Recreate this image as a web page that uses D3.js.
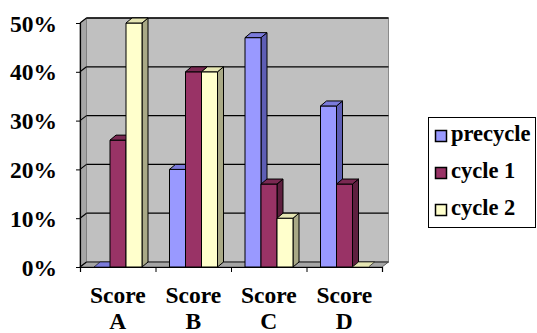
<!DOCTYPE html>
<html>
<head>
<meta charset="utf-8">
<script src="https://cdn.jsdelivr.net/npm/d3@7"></script>
<style>
  html, body { margin: 0; padding: 0; background: #fff; }
  svg { display: block; }
</style>
</head>
<body>
<svg id="chart" width="537" height="333"></svg>
<script>
// Score categories and the share of each score per cycle (percent)
const categories = ["Score A", "Score B", "Score C", "Score D"];
const seriesNames = ["precycle", "cycle 1", "cycle 2"];
const precycle = [0, 20, 47, 33];
const cycle1 = [26, 40, 17, 17];
const cycle2 = [50, 40, 10, 0];
const yTicks = [0, 10, 20, 30, 40, 50];

const seriesValues = [precycle, cycle1, cycle2];
const palette = {
  front: ["#9999FF", "#993366", "#FFFFCC"],
  top:   ["#7B7BDB", "#7A2952", "#E6E6B4"],
  side:  ["#5E5EB5", "#5E1F3F", "#A9A986"]
};
const FONT = '"Liberation Serif", "Times New Roman", serif';

const svg = d3.select("#chart");

// Front plane of the plot and the 3-D depth offset
const plotLeft = 80, plotRight = 382, plotBottom = 267, plotTop = 23;
const DX = 6.5, DY = 5;     // wall / floor depth
const bdx = 6, bdy = 5;     // column depth

const y = d3.scaleLinear().domain([0, 50]).range([plotBottom, plotTop]);
const x0 = d3.scaleBand().domain(categories).range([plotLeft, plotRight]);
const x1 = d3.scaleBand().domain(seriesNames).range([14, x0.bandwidth() - 13.5]);

const poly = pts => pts.map(p => p.join(",")).join(" ");
const styleText = sel => sel.style("font-family", FONT).style("font-weight", "bold").attr("fill", "#000");

// Back wall
svg.append("rect")
  .attr("x", plotLeft + DX).attr("y", plotTop - DY)
  .attr("width", plotRight - plotLeft).attr("height", plotBottom - plotTop)
  .attr("fill", "#C0C0C0").attr("stroke", "#8a8a8a").attr("stroke-width", 1);

// Side wall
svg.append("polygon")
  .attr("points", poly([[plotLeft, plotTop], [plotLeft + DX, plotTop - DY], [plotLeft + DX, plotBottom - DY], [plotLeft, plotBottom]]))
  .attr("fill", "#A6A6A6").attr("stroke", "#808080");

// Floor
svg.append("polygon")
  .attr("points", poly([[plotLeft, plotBottom], [plotLeft + DX, plotBottom - DY], [plotRight + DX, plotBottom - DY], [plotRight, plotBottom]]))
  .attr("fill", "#A6A6A6").attr("stroke", "#606060");

// Gridlines on back and side walls
const grid = svg.append("g");
yTicks.forEach(t => {
  grid.append("line")
    .attr("x1", plotLeft + DX).attr("x2", plotRight + DX)
    .attr("y1", y(t) - DY).attr("y2", y(t) - DY)
    .attr("stroke", "#000").attr("stroke-width", t === 0 ? 0.6 : 1.3);
  grid.append("line")
    .attr("x1", plotLeft).attr("x2", plotLeft + DX)
    .attr("y1", y(t)).attr("y2", y(t) - DY)
    .attr("stroke", "#000").attr("stroke-width", 1.1);
});

// Axes
const yAxis = svg.append("g").attr("transform", `translate(${plotLeft},0)`)
  .call(d3.axisLeft(y).tickValues(yTicks).tickSize(4).tickFormat(d => d + "%"));
yAxis.select(".domain").attr("stroke", "#000").attr("stroke-width", 1.2);
yAxis.selectAll(".tick line").attr("stroke", "#000");
yAxis.selectAll(".tick text")
  .attr("x", -23).attr("dy", "0.34em")
  .call(styleText).style("font-size", "23.5px");

const xEdge = d3.scaleLinear().domain([0, categories.length]).range([plotLeft, plotRight]);
const xAxis = svg.append("g").attr("transform", `translate(0,${plotBottom})`)
  .call(d3.axisBottom(xEdge).tickValues(d3.range(categories.length + 1)).tickSize(5).tickFormat(""));
xAxis.select(".domain").attr("stroke", "#000").attr("stroke-width", 1.2);
xAxis.selectAll(".tick line").attr("stroke", "#000");

// Columns
const bars = svg.append("g");
categories.forEach((cat, ci) => {
  seriesNames.forEach((s, si) => {
    const v = seriesValues[si][ci];
    const xl = x0(cat) + x1(s), w = x1.bandwidth();
    const yt = y(v), yb = y(0);
    const g = bars.append("g").attr("stroke", "#000").attr("stroke-width", 1).attr("stroke-linejoin", "round");
    if (v > 0) {
      g.append("polygon")
        .attr("points", poly([[xl + w, yt], [xl + w + bdx, yt - bdy], [xl + w + bdx, yb - bdy], [xl + w, yb]]))
        .attr("fill", palette.side[si]);
      g.append("rect").attr("x", xl).attr("y", yt).attr("width", w).attr("height", yb - yt)
        .attr("fill", palette.front[si]);
    }
    g.append("polygon")
      .attr("points", poly([[xl, yt], [xl + bdx, yt - bdy], [xl + w + bdx, yt - bdy], [xl + w, yt]]))
      .attr("fill", palette.top[si]).attr("stroke-width", v > 0 ? 1 : 0.6);
  });
});

// Category labels (two lines each)
const labels = svg.append("g");
categories.forEach(cat => {
  const cx = x0(cat) + x0.bandwidth() / 2;
  const parts = cat.split(" ");
  const t = labels.append("text").attr("text-anchor", "middle")
    .call(styleText).style("font-size", "23.5px");
  t.append("tspan").attr("x", cx).attr("y", 303).text(parts[0]);
  t.append("tspan").attr("x", cx).attr("y", 329).text(parts[1]);
});

// Legend
const lg = svg.append("g");
lg.append("rect").attr("x", 428.5).attr("y", 117.5).attr("width", 107).attr("height", 110)
  .attr("fill", "#fff").attr("stroke", "#000");
const legendY = [136, 173, 210];
seriesNames.forEach((s, i) => {
  lg.append("rect").attr("x", 435.5).attr("y", legendY[i] - 5.5).attr("width", 11).attr("height", 11)
    .attr("fill", palette.front[i]).attr("stroke", "#000").attr("stroke-width", 1.5);
  lg.append("text").attr("x", 451).attr("y", legendY[i] + 5)
    .call(styleText).style("font-size", "22.5px").text(s);
});
</script>
</body>
</html>
